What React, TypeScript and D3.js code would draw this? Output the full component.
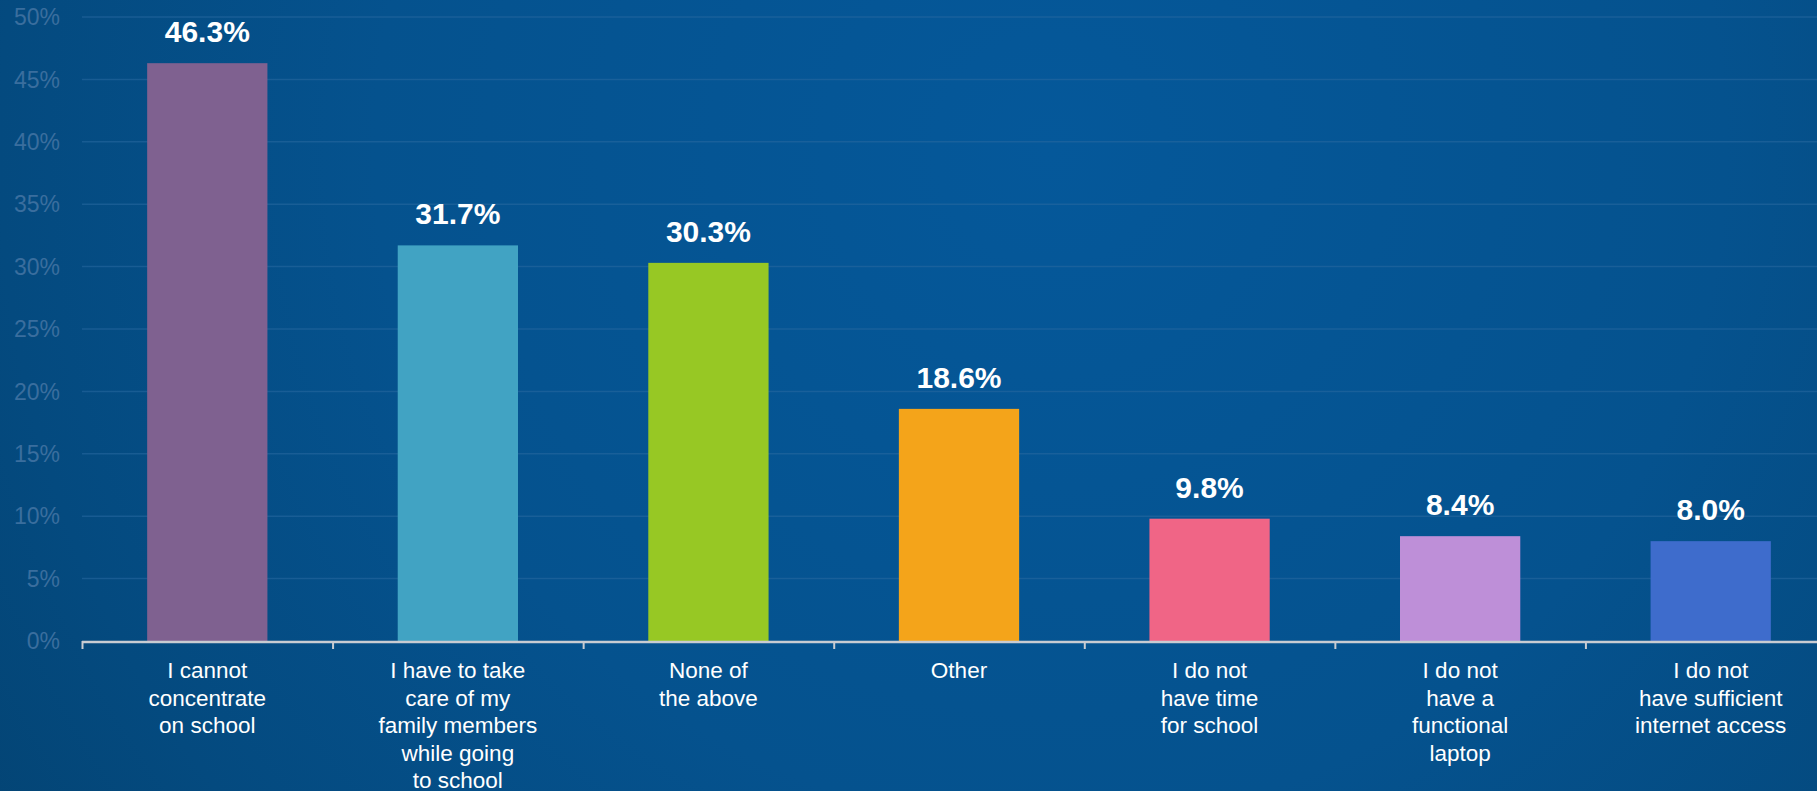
import React from "react";
import * as d3 from "d3";

const categories: string[][] = [
  ["I cannot", "concentrate", "on school"],
  ["I have to take", "care of my", "family members", "while going", "to school"],
  ["None of", "the above"],
  ["Other"],
  ["I do not", "have time", "for school"],
  ["I do not", "have a", "functional", "laptop"],
  ["I do not", "have sufficient", "internet access"],
];
const values: number[] = [46.3, 31.7, 30.3, 18.6, 9.8, 8.4, 8.0];
const barColors: string[] = ["#7f6190", "#41a3c3", "#97c824", "#f4a41a", "#f06586", "#be8fd8", "#3e6ccc"];
const yTicks: number[] = [0, 5, 10, 15, 20, 25, 30, 35, 40, 45, 50];

const W = 1817;
const H = 791;
const left = 82;
const right = 1836;
const top = 17;
const bottom = 641;

export default function App() {
  const keys = categories.map((_, i) => String(i));
  const x = d3.scaleBand<string>().domain(keys).range([left, right]).paddingInner(0.52).paddingOuter(0.26);
  const xb = d3.scaleBand<string>().domain(keys).range([left, right]);
  const y = d3.scaleLinear().domain([0, 50]).range([bottom, top]);
  const font = "'Liberation Sans', Arial, Helvetica, sans-serif";
  return (
    <svg width={W} height={H} style={{ position: "absolute", left: 0, top: 0 }} fontFamily={font}>
      <defs>
        <radialGradient id="bg" cx="1050" cy="150" r="1500" gradientUnits="userSpaceOnUse">
          <stop offset="0" stopColor="#05589a" />
          <stop offset="0.45" stopColor="#05528e" />
          <stop offset="0.7" stopColor="#044a7f" />
          <stop offset="0.9" stopColor="#034270" />
          <stop offset="1" stopColor="#033f6b" />
        </radialGradient>
      </defs>
      <rect x={0} y={0} width={W} height={H} fill="url(#bg)" />
      {yTicks.map((t) => (
        <g key={t}>
          {t > 0 && <line x1={left} x2={W} y1={y(t)} y2={y(t)} stroke="#2a6aa0" strokeOpacity={0.55} strokeWidth={1.5} />}
          <text x={left - 22} y={y(t)} dy="0.36em" textAnchor="end" fontSize={23} fill="#3a6e9e">
            {t}%
          </text>
        </g>
      ))}
      {values.map((v, i) => (
        <g key={i}>
          <rect x={x(String(i))} y={y(v)} width={x.bandwidth()} height={bottom - y(v)} fill={barColors[i]} />
          <text
            x={(x(String(i)) as number) + x.bandwidth() / 2}
            y={y(v) - 21}
            textAnchor="middle"
            fontSize={30}
            fontWeight="bold"
            fill="#ffffff"
          >
            {v.toFixed(1)}%
          </text>
        </g>
      ))}
      <line x1={left} x2={W} y1={bottom + 1} y2={bottom + 1} stroke="#c9ccd2" strokeWidth={2.5} />
      {keys.map((k) => (
        <line key={k} x1={(xb(k) as number) + 0.5} x2={(xb(k) as number) + 0.5} y1={bottom} y2={bottom + 8} stroke="#c9ccd2" strokeWidth={2} />
      ))}
      {categories.map((lines, i) => (
        <text key={i} textAnchor="middle" fontSize={22.5} fill="#ffffff">
          {lines.map((ln, j) => (
            <tspan key={j} x={(x(String(i)) as number) + x.bandwidth() / 2} y={678 + j * 27.5}>
              {ln}
            </tspan>
          ))}
        </text>
      ))}
    </svg>
  );
}
